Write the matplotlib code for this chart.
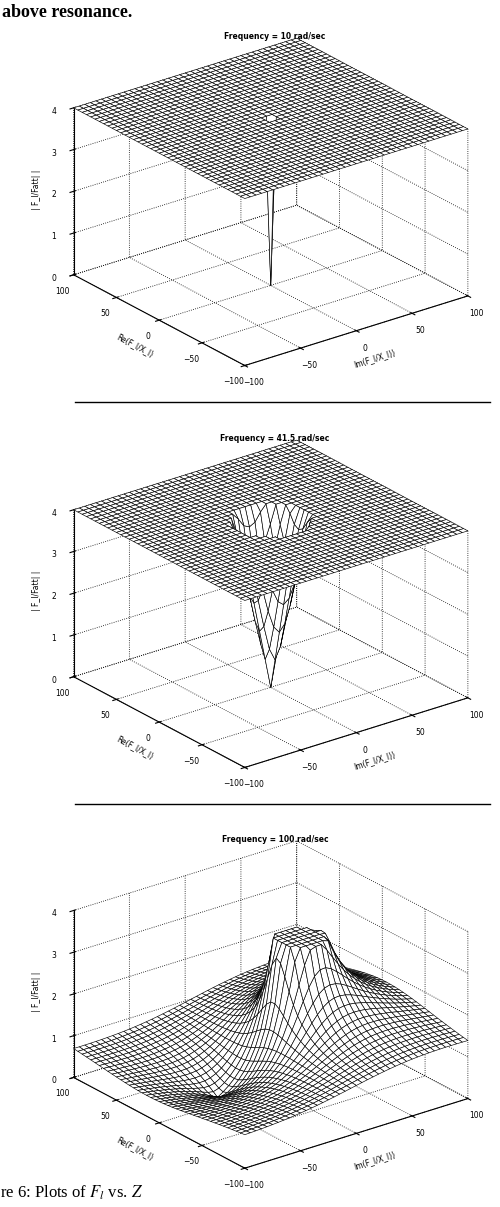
import numpy as np
import matplotlib
matplotlib.use("Agg")
import matplotlib.pyplot as plt
plt.rcParams["mathtext.fontset"] = "stix"

# Data
titles = ["Frequency = 10 rad/sec", "Frequency = 41.5 rad/sec", "Frequency = 100 rad/sec"]
axis_ticks = [-100, -50, 0, 50, 100]
z_ticks = [0, 1, 2, 3, 4]
grid_vals = np.arange(-100, 101, 5)
# dip parameters for panels 1, 2: (centre Im, centre Re, radius, plateau)
dips = [(0, 0, 3, 4.0), (0, 0, 28, 4.0)]
# panel 3: zero and pole locations (Im, Re), clip level
zero3 = (-40, 10)
pole3 = (20, 0)
clip3 = 3.4

fig = plt.figure(figsize=(5, 12.07), dpi=100)
fig.text(0.005, 0.997, "above resonance.", family="Liberation Serif", fontsize=13, weight="bold", va="top")
fig.text(0.0, 0.004, "re 6: Plots of $F_l$ vs. $Z$", family="Liberation Serif", fontsize=12, va="bottom")
for y in [0.667, 0.334]:
    fig.add_artist(plt.Line2D([0.15, 0.98], [y, y], color="black", lw=1))

IM, RE = np.meshgrid(grid_vals, grid_vals)
surfaces = []
for cx, cy, r, p in dips:
    d = np.hypot(IM - cx, RE - cy)
    surfaces.append(np.minimum(p, p * d / r))
zz = np.abs((IM + 1j * RE) - complex(*zero3)) / np.maximum(np.abs((IM + 1j * RE) - complex(*pole3)), 1e-6)
surfaces.append(np.minimum(clip3, zz))

rects = [[-0.12, 0.652, 1.3, 0.352], [-0.12, 0.319, 1.3, 0.352], [-0.12, -0.013, 1.3, 0.352]]
title_y = [0.968, 0.635, 0.302]
for i in range(3):
    ax = fig.add_axes(rects[i], projection="3d", proj_type="ortho")
    ax.plot_surface(IM, RE, surfaces[i], color="white", edgecolor="black", linewidth=0.45, shade=False, rstride=1, cstride=1)
    ax.view_init(elev=24, azim=-127.5)
    ax.set_box_aspect((1, 1, 0.65))
    ax.set_xlim(-100, 100); ax.set_ylim(-100, 100); ax.set_zlim(0, 4)
    ax.set_xticks(axis_ticks); ax.set_yticks(axis_ticks); ax.set_zticks(z_ticks)
    ax.tick_params(labelsize=5.5, pad=0)
    ax.set_xlabel("Im(F_l/X_l))", fontsize=5.5, labelpad=-4)
    ax.set_ylabel("Re(F_l/X_l)", fontsize=5.5, labelpad=-4)
    ax.set_zlabel("| F_l/Fatt| |", fontsize=5.5, labelpad=-6)
    fig.text(0.55, title_y[i], titles[i], fontsize=5.5, weight="bold", ha="center")
    for a in (ax.xaxis, ax.yaxis, ax.zaxis):
        a.pane.fill = False
        a.pane.set_edgecolor("none")
        a._axinfo["grid"].update(color="black", linestyle=":", linewidth=0.6)
fig.savefig("out.png", dpi=100)
